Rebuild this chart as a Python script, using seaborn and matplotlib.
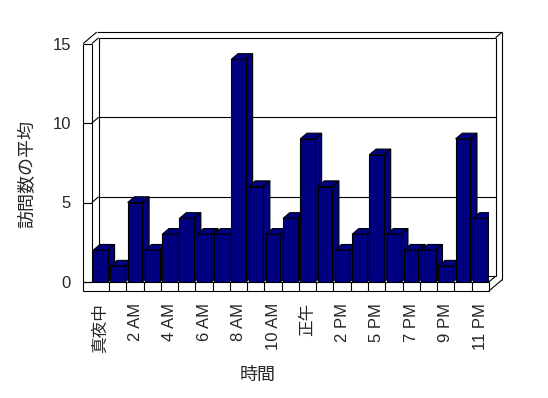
import numpy as np
import pandas as pd
import matplotlib.pyplot as plt
import seaborn as sns
from matplotlib.patches import Polygon

# 時間帯 (4 PM はデータなし)
hours = ['真夜中', '1 AM', '2 AM', '3 AM', '4 AM', '5 AM', '6 AM', '7 AM', '8 AM',
         '9 AM', '10 AM', '11 AM', '正午', '1 PM', '2 PM', '3 PM', '5 PM', '6 PM',
         '7 PM', '8 PM', '9 PM', '10 PM', '11 PM']
# 訪問数の平均
visits = [2, 1, 5, 2, 3, 4, 3, 3, 14, 6, 3, 4, 9, 6, 2, 3, 8, 3, 2, 2, 1, 9, 4]
y_ticks = [0, 5, 10, 15]

navy = '#000080'
sns.set_style('white')
plt.rcParams['font.family'] = ['Liberation Sans', 'Noto Sans CJK JP']

W, H = 548, 398
fig = plt.figure(figsize=(W / 100, H / 100), dpi=100)
ax = fig.add_axes([91.9 / W, (H - 282) / H, 396.9 / W, 238.5 / H])

df = pd.DataFrame({'hour': hours, 'visits': visits})
sns.barplot(data=df, x='hour', y='visits', color=navy, saturation=1, width=0.85,
            edgecolor='black', linewidth=0.8, ax=ax)
ax.set_xlim(-0.5, len(hours) - 0.5)
ax.set_ylim(0, 15)

# 奥行き (データ単位)
dx, dy = 0.39, 0.36
fl = 0.57  # 床の厚み
xr = len(hours) - 0.5


def seg(xs, ys, z=2):
    ax.plot(xs, ys, color='black', lw=0.8, clip_on=False, zorder=z,
            solid_capstyle='butt')


# 棒の上面と側面
for i, p in enumerate(ax.patches):
    x0, w, h = p.get_x(), p.get_width(), p.get_height()
    p.set_zorder(10 + 2 * i + 1)
    top = Polygon([(x0, h), (x0 + w, h), (x0 + w + dx, h + dy), (x0 + dx, h + dy)],
                  facecolor=navy, edgecolor='black', lw=0.8, zorder=10 + 2 * i)
    side = Polygon([(x0 + w, 0), (x0 + w + dx, dy), (x0 + w + dx, h + dy), (x0 + w, h)],
                   facecolor=navy, edgecolor='black', lw=0.8, zorder=10 + 2 * i)
    ax.add_patch(side)
    ax.add_patch(top)

# 背面の目盛線と左の壁
for v in y_ticks:
    seg([-0.5 + dx, xr + dx], [v + dy, v + dy], z=1)
    seg([-1, -0.5], [v, v])
    seg([-0.5, -0.5 + dx], [v, v + dy])

# 左の壁
seg([-1, -1], [-fl, 15])
seg([-0.5, -0.5], [0, 15])
seg([-0.5 + dx, -0.5 + dx], [dy, 15 + dy], z=1)
# 上端と右端
seg([-1, -1 + 2 * dx], [15, 15 + 2 * dy])
seg([-1 + 2 * dx, xr + 2 * dx], [15 + 2 * dy, 15 + 2 * dy])
seg([xr + dx, xr + 2 * dx], [15 + dy, 15 + 2 * dy])
seg([xr + dx, xr + dx], [dy, 15 + dy], z=1)
seg([xr + 2 * dx, xr + 2 * dx], [-fl + 2 * dy, 15 + 2 * dy])
seg([xr, xr + 2 * dx], [-fl, -fl + 2 * dy])
seg([xr, xr + dx], [0, dy])
# 床
seg([-1, xr], [-fl, -fl])
seg([-1, xr], [0, 0])
seg([xr, xr], [-fl, 0])
for k in range(len(hours) - 1):
    seg([k + 0.5, k + 0.5], [-fl, 0])

for s in ax.spines.values():
    s.set_visible(False)
ax.patch.set_visible(False)
ax.set_yticks(y_ticks)
ax.set_xticks(range(0, len(hours), 2))
ax.set_xticklabels(hours[::2], rotation=90)
ax.tick_params(axis='y', length=0, pad=15, labelsize=12)
ax.tick_params(axis='x', length=0, pad=15, labelsize=12)
ax.set_xlabel('')
ax.set_ylabel('')

fig.text(28 / W, 1 - 174 / H, '訪問数の平均', rotation=90, ha='center', va='center', fontsize=13)
fig.text(258 / W, 1 - 375 / H, '時間', ha='center', va='center', fontsize=13)

fig.savefig('out.png', dpi=100)
